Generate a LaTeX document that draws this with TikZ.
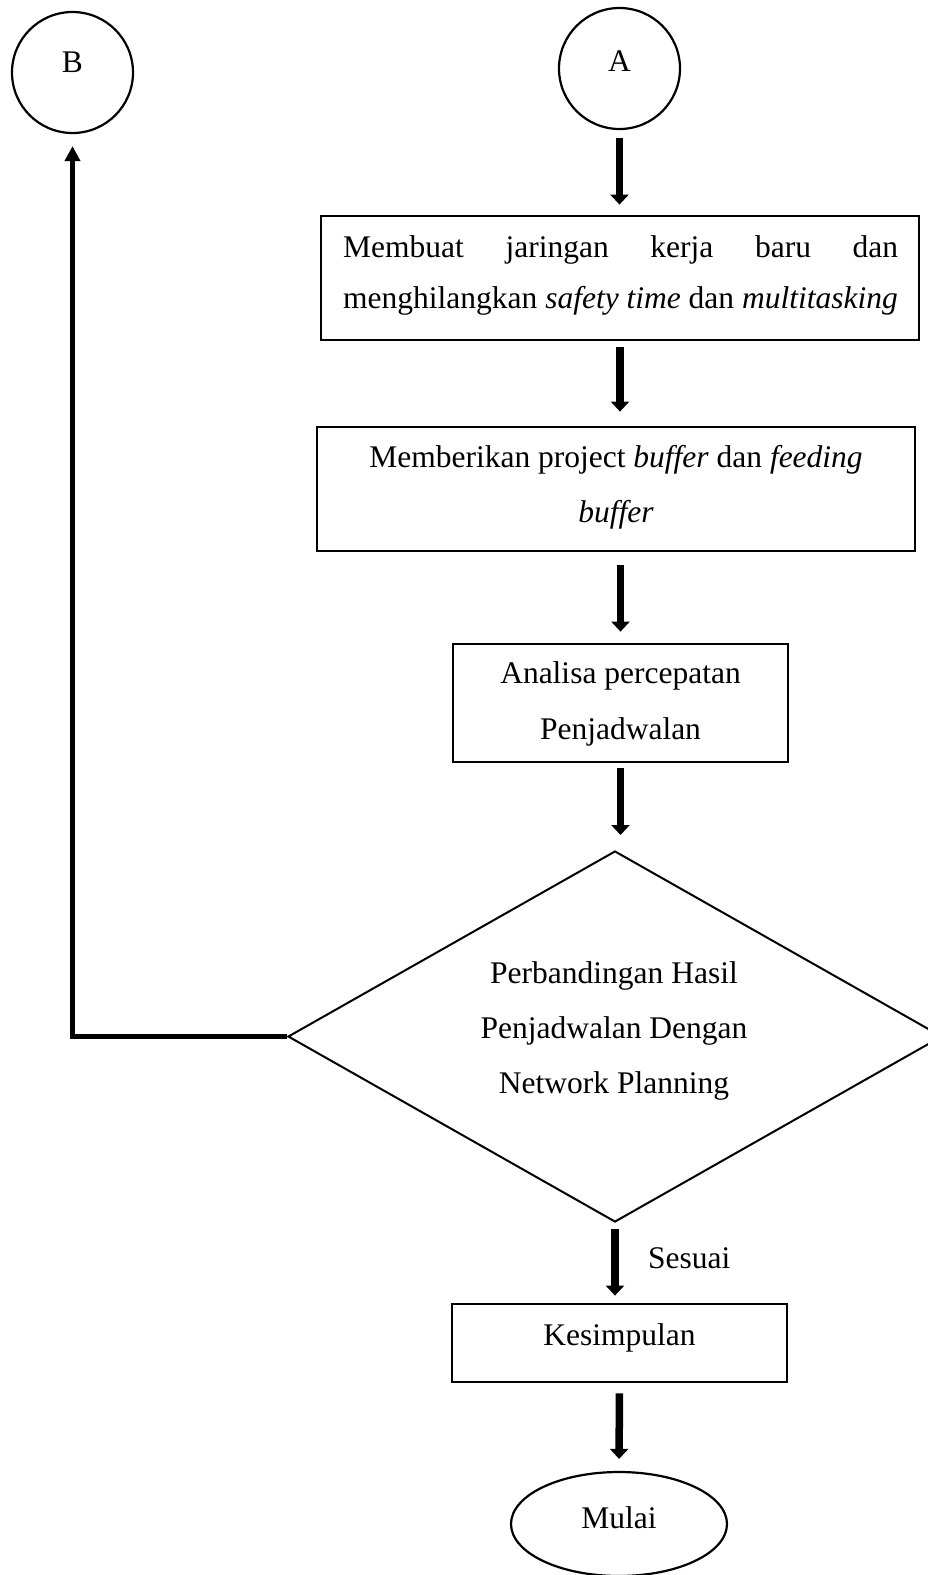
\documentclass[tikz,border=0pt]{standalone}
\usepackage{fontspec}
\setmainfont{Liberation Serif}
\usetikzlibrary{arrows.meta,shapes.geometric,calc}
\begin{document}
\begin{tikzpicture}[x=1pt,y=-1pt,
  box/.style={draw,line width=2.8pt,inner sep=0pt},
  circ/.style={draw,circle,line width=2.2pt,minimum size=121pt,inner sep=0pt},
  txt/.style={inner sep=0pt,anchor=base,font=\fontsize{31.5}{38}\selectfont},
  bigarrow/.style={line width=7.5pt,-{Triangle[width=18pt,length=10pt]}},
  thinarrow/.style={line width=4.5pt,-{Triangle[width=15pt,length=15pt]}},
]
\path[use as bounding box,clip] (0,0) rectangle (928,1575);

\node[circ] (B) at (72.5,72.5) {};
\node[circ] (A) at (619.5,68.5) {};
\node[txt] (tB) at (72.5,72) {B};
\node[txt] (tA) at (619.5,71) {A};

\node[box,minimum width=598pt,minimum height=124pt] (box1) at (620,278) {};
\node[txt,anchor=base west] (t1a) at (343,257) {\makebox[555pt][s]{Membuat jaringan kerja baru dan}};
\node[txt,anchor=base west] (t1b) at (343,308) {menghilangkan \textit{safety time} dan \textit{multitasking}};

\node[box,minimum width=598pt,minimum height=124pt] (box2) at (616,489) {};
\node[txt] (t2a) at (616,467) {Memberikan project \textit{buffer} dan \textit{feeding}};
\node[txt] (t2b) at (616,522) {\textit{buffer}};

\node[box,minimum width=335pt,minimum height=118pt] (box3) at (620.5,703) {};
\node[txt] (t3a) at (620.5,683) {Analisa percepatan};
\node[txt] (t3b) at (620.5,739) {Penjadwalan};

\node[draw,diamond,line width=2pt,minimum width=654pt,minimum height=371pt,inner sep=0pt] (dia) at (615,1036.5) {};
\node[txt] (t4a) at (614,983) {Perbandingan Hasil};
\node[txt] (t4b) at (614,1038) {Penjadwalan Dengan};
\node[txt] (t4c) at (614,1093) {Network Planning};

\node[box,minimum width=335pt,minimum height=78pt] (box4) at (619.5,1343) {};
\node[txt] (t5) at (619.5,1345) {Kesimpulan};

\node[draw,ellipse,line width=2.2pt,minimum width=216pt,minimum height=104pt,inner sep=0pt] (mulai) at (619,1524) {};
\node[txt] (t6) at (619,1528) {Mulai};

\node[txt,anchor=base west] (sesuai) at (648,1268) {Sesuai};

\draw[bigarrow,shorten <=8pt,shorten >=10pt] (A.south) -- (A.south |- box1.north);
\draw[bigarrow,shorten <=6pt,shorten >=14pt] (box1.south) -- (box1.south |- box2.north);
\draw[bigarrow,shorten <=13pt,shorten >=11pt] (box3.north |- box2.south) -- (box3.north);
\draw[bigarrow,shorten <=5pt,shorten >=15pt] (box3.south) -- (box3.south |- dia.north);
\draw[bigarrow,shorten <=6pt,shorten >=7pt] (dia.south) -- (dia.south |- box4.north);
\draw[bigarrow,shorten <=10pt,shorten >=12pt] (box4.south) -- (mulai.north);
\draw[thinarrow,shorten >=12pt] (dia.west) -| (B.south);
\end{tikzpicture}
\end{document}
